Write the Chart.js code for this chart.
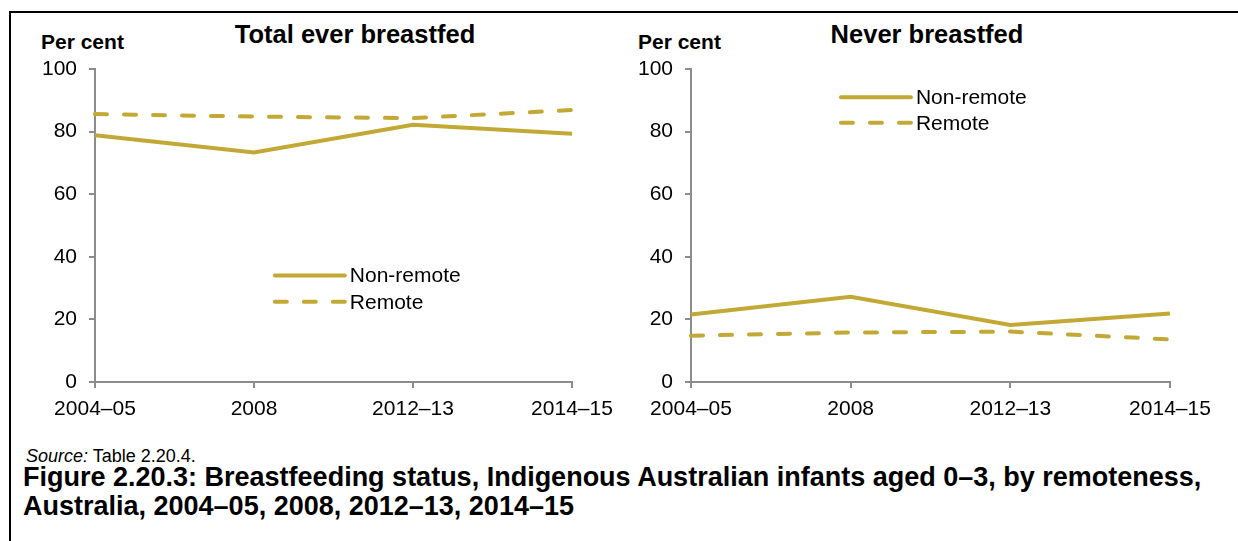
<!DOCTYPE html>
<html>
<head>
<meta charset="utf-8">
<script src="https://cdn.jsdelivr.net/npm/chart.js@4"></script>
<style>
    html, body { margin: 0; padding: 0; background: #fff; }
    body { width: 1238px; height: 541px; position: relative; overflow: hidden; font-family: "Liberation Sans", Arial, sans-serif; color: #000; }
    .frame { position: absolute; left: 9px; top: 11px; width: 1240px; height: 540px; border-top: 2px solid #000; border-left: 2px solid #000; }
    .box { position: absolute; top: 14px; width: 610px; height: 410px; }
    .txt { position: absolute; white-space: nowrap; }
    .unit { font-weight: bold; font-size: 21px; top: 30px; }
    .title { font-weight: bold; font-size: 25.5px; top: 20px; transform: translateX(-50%); }
    .source { left: 26px; top: 446px; font-size: 18px; }
    .caption { left: 23px; top: 463px; font-size: 27px; font-weight: bold; line-height: 29px; }
</style>
</head>
<body>
<div class="frame"></div>
<div class="txt unit" style="left:41px">Per cent</div>
<div class="txt title" style="left:355px">Total ever breastfed</div>
<div class="txt unit" style="left:638px">Per cent</div>
<div class="txt title" style="left:927px">Never breastfed</div>
<div class="box" style="left:10px"><canvas id="everChart"></canvas></div>
<div class="box" style="left:620px"><canvas id="neverChart"></canvas></div>
<div class="txt source"><i>Source:</i> Table 2.20.4.</div>
<div class="txt caption">Figure 2.20.3: Breastfeeding status, Indigenous Australian infants aged 0–3, by remoteness,<br>Australia, 2004–05, 2008, 2012–13, 2014–15</div>
<script>
    // Data
    const periods = ['2004–05', '2008', '2012–13', '2014–15'];
    const seriesNames = ['Non-remote', 'Remote'];
    const everNonRemote = [78.8, 73.3, 82.2, 79.3];
    const everRemote = [85.6, 84.8, 84.3, 86.9];
    const neverNonRemote = [21.6, 27.2, 18.2, 21.9];
    const neverRemote = [14.8, 15.8, 16.1, 13.6];
    const yTicks = [0, 20, 40, 60, 80, 100];

    const GOLD = '#c2a935';
    const AXIS = '#8c8c8c';
    const FONT = '"Liberation Sans", Arial, sans-serif';

    // Legend drawn inside the plot area, next to a line sample
    const inlineLegend = {
        id: 'inlineLegend',
        afterDraw(chart, args, opts) {
            const { ctx, chartArea, scales } = chart;
            const x0 = chartArea.left + opts.xFrac * chartArea.width;
            chart.data.datasets.forEach((ds, i) => {
                const y = scales.y.getPixelForValue(opts.yValues[i]);
                ctx.save();
                ctx.strokeStyle = ds.borderColor;
                ctx.lineWidth = ds.borderWidth;
                ctx.lineCap = 'round';
                ctx.setLineDash(ds.borderDash || []);
                ctx.beginPath();
                ctx.moveTo(x0, y);
                ctx.lineTo(x0 + opts.lineLength, y);
                ctx.stroke();
                ctx.setLineDash([]);
                ctx.fillStyle = '#000';
                ctx.font = `21px ${FONT}`;
                ctx.textBaseline = 'middle';
                ctx.fillText(ds.label, x0 + opts.lineLength + 5, y + 1);
                ctx.restore();
            });
        }
    };

    function makeChart(id, nonRemote, remote, padLeft, padRight, legendPos) {
        const ctx = document.getElementById(id).getContext('2d');
        return new Chart(ctx, {
            type: 'line',
            data: {
                labels: periods,
                datasets: [
                    {
                        label: seriesNames[0],
                        data: nonRemote,
                        borderColor: GOLD,
                        borderWidth: 4,
                        pointRadius: 0,
                        tension: 0,
                        fill: false
                    },
                    {
                        label: seriesNames[1],
                        data: remote,
                        borderColor: GOLD,
                        borderWidth: 4,
                        borderDash: [12, 17],
                        borderCapStyle: 'round',
                        pointRadius: 0,
                        tension: 0,
                        fill: false
                    }
                ]
            },
            options: {
                responsive: false,
                animation: false,
                devicePixelRatio: 1,
                layout: { padding: { left: padLeft, right: padRight, top: 55, bottom: 2 } },
                plugins: {
                    legend: { display: false },
                    tooltip: { enabled: false },
                    inlineLegend: legendPos
                },
                scales: {
                    x: {
                        offset: false,
                        afterFit: scale => {
                            scale.height = 40;
                            // let the layout padding alone decide where the plot ends
                            scale.paddingLeft = 0;
                            scale.paddingRight = 0;
                        },
                        grid: { drawOnChartArea: false, drawTicks: true, tickLength: 6, color: AXIS, lineWidth: 2 },
                        border: { display: true, color: AXIS, width: 2 },
                        ticks: { color: '#000', padding: 9, maxRotation: 0, font: { family: FONT, size: 21 } }
                    },
                    y: {
                        min: 0,
                        max: 100,
                        afterFit: scale => { scale.width = 60; },
                        afterBuildTicks: scale => { scale.ticks = yTicks.map(v => ({ value: v })); },
                        grid: { drawOnChartArea: false, drawTicks: true, tickLength: 6, color: AXIS, lineWidth: 2 },
                        border: { display: true, color: AXIS, width: 2 },
                        ticks: { color: '#000', padding: 12, font: { family: FONT, size: 21 } }
                    }
                }
            },
            plugins: [inlineLegend]
        });
    }

    function sizeCanvas(id) {
        const c = document.getElementById(id);
        c.width = 610;
        c.height = 410;
        c.style.width = '610px';
        c.style.height = '410px';
    }

    sizeCanvas('everChart');
    sizeCanvas('neverChart');

    makeChart('everChart', everNonRemote, everRemote, 25, 48,
        { xFrac: 0.377, yValues: [34, 25.6], lineLength: 70 });
    makeChart('neverChart', neverNonRemote, neverRemote, 11, 60,
        { xFrac: 0.313, yValues: [91, 82.8], lineLength: 70 });
</script>
</body>
</html>
